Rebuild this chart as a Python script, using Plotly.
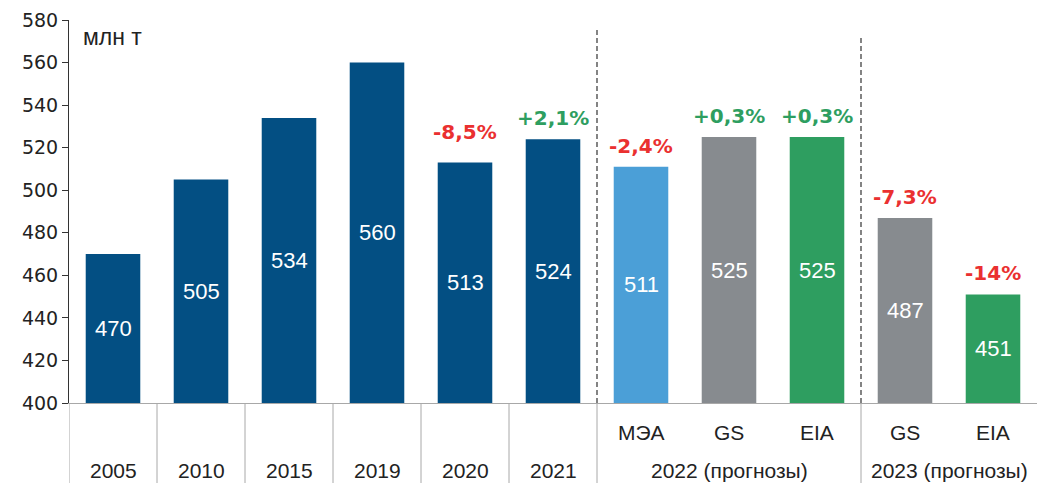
import plotly.graph_objects as go

# ---- data ----
sub_labels = ["", "", "", "", "", "", "МЭА", "GS", "EIA", "GS", "EIA"]
group_labels = ["2005", "2010", "2015", "2019", "2020", "2021",
                "2022 (прогнозы)", "2022 (прогнозы)", "2022 (прогнозы)",
                "2023 (прогнозы)", "2023 (прогнозы)"]
values = [470, 505, 534, 560, 513, 524, 511, 525, 525, 487, 451]
changes = [None, None, None, None, "-8,5%", "+2,1%", "-2,4%", "+0,3%", "+0,3%", "-7,3%", "-14%"]
y_ticks = [400, 420, 440, 460, 480, 500, 520, 540, 560, 580]
unit_label = "млн т"
y_min, y_max = 400, 580

DARK = "#034f83"
LIGHT = "#4b9fd7"
GRAY = "#878b8f"
GREEN = "#2e9e60"
RED = "#ea3030"
TXT = "#222222"
bar_colors = [DARK] * 6 + [LIGHT, GRAY, GREEN, GRAY, GREEN]

SANS = "Liberation Sans, Arial, sans-serif"
WIDE = "DejaVu Sans, sans-serif"
x = list(range(len(values)))

fig = go.Figure()
fig.add_trace(go.Bar(
    x=x, y=values, marker=dict(color=bar_colors, line=dict(width=0)),
    width=0.62, hoverinfo="skip",
))

annotations = []
# value labels centered in bars
for i, v in enumerate(values):
    annotations.append(dict(x=i, y=(y_min + v) / 2, xref="x", yref="y", text=str(v),
                            showarrow=False, yanchor="middle",
                            font=dict(size=22, color="white", family=SANS)))
# change labels above bars
for i, c in enumerate(changes):
    if c:
        col = GREEN if c.startswith("+") else RED
        annotations.append(dict(x=i, y=values[i], xref="x", yref="y", text=f"<b>{c}</b>",
                                showarrow=False, yanchor="bottom", yshift=7 + (10 if i == 4 else 0),
                                font=dict(size=20, color=col, family=WIDE)))

H = 383.0  # plot height px
# sub labels (row 1)
for i, s in enumerate(sub_labels):
    if s:
        annotations.append(dict(x=i, y=-29 / H, xref="x", yref="paper", text=s, showarrow=False,
                                yanchor="middle", font=dict(size=21, color=TXT, family=SANS)))
# group labels (row 2)
groups = []
for i, g in enumerate(group_labels):
    if groups and groups[-1][0] == g:
        groups[-1][2] = i
    else:
        groups.append([g, i, i])
for g, a, b in groups:
    annotations.append(dict(x=(a + b) / 2, y=-67 / H, xref="x", yref="paper", text=g, showarrow=False,
                            yanchor="middle", font=dict(size=21, color=TXT, family=SANS)))

annotations.append(dict(x=0.012, y=0.995, xref="paper", yref="paper", text=unit_label, showarrow=False,
                        xanchor="left", yanchor="top", font=dict(size=23, color=TXT, family=SANS)))

shapes = []
# separators below axis between groups
for g, a, b in groups:
    shapes.append(dict(type="line", xref="x", yref="paper", x0=a - 0.5, x1=a - 0.5,
                       y0=0, y1=-80 / H, line=dict(color="#a8a8a8", width=1)))
# dashed lines between periods
for xpos, ytop in [(5.5, 0.974), (8.5, 0.958)]:
    shapes.append(dict(type="line", xref="x", yref="paper", x0=xpos, x1=xpos, y0=0, y1=ytop,
                       line=dict(color="#333333", width=1.2, dash="5px,3px")))

fig.update_layout(
    width=1038, height=483,
    margin=dict(l=69, r=1, t=20, b=80),
    paper_bgcolor="white", plot_bgcolor="white",
    showlegend=False,
    annotations=annotations, shapes=shapes,
    font=dict(family=SANS),
    xaxis=dict(range=[-0.5, len(values) - 0.5], showticklabels=False, ticks="",
               showgrid=False, zeroline=False, showline=True, linecolor="#a8a8a8", linewidth=1),
    yaxis=dict(range=[y_min, y_max], tickvals=y_ticks, ticks="outside", ticklen=6, tickcolor="#333",
               showgrid=False, zeroline=False, showline=True, linecolor="#333", linewidth=1,
               tickfont=dict(size=19, color=TXT, family=WIDE)),
)

fig.write_html("out.html", config={"displayModeBar": False},
               post_script="document.body.style.margin='0';document.body.style.overflow='hidden';")
